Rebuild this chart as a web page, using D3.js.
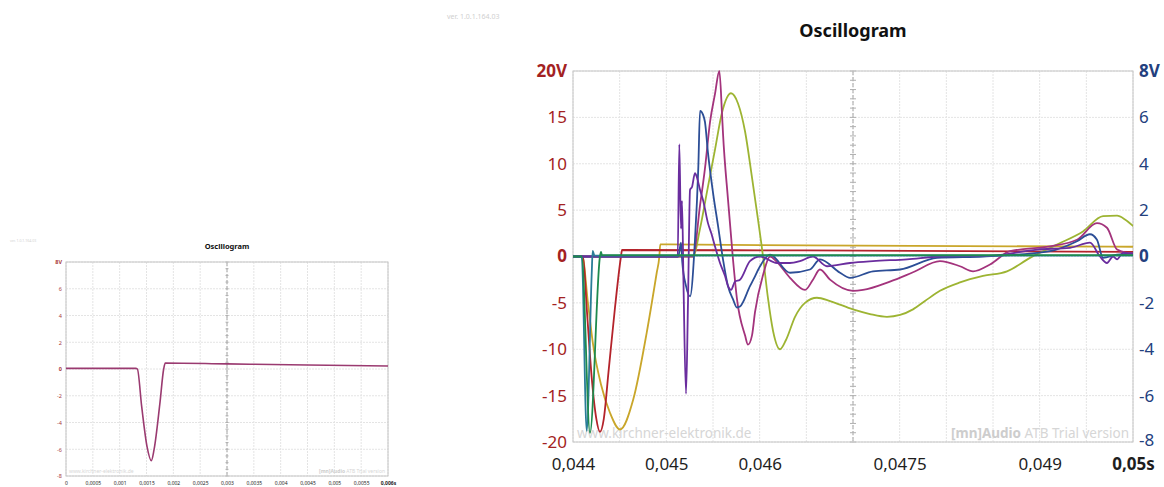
<!DOCTYPE html>
<html><head><meta charset="utf-8">
<script src="https://cdn.jsdelivr.net/npm/d3@7/dist/d3.min.js"></script>
<style>
body{margin:0;background:#fff;}
svg{display:block;font-family:"Noto Sans","Open Sans",sans-serif;}
</style>
</head><body>
<svg id="chart" width="1164" height="487"></svg>
<script>
// ---------------- DATA ----------------
// small (left) oscillogram
const smallGridX = [0,0.0005,0.001,0.0015,0.002,0.0025,0.003,0.0035,0.004,0.0045,0.005,0.0055,0.006];
const smallXLabels = ["0","0,0005","0,001","0,0015","0,002","0,0025","0,003","0,0035","0,004","0,0045","0,005","0,0055","0,006s"];
const smallYTicks = [-8,-6,-4,-2,0,2,4,6,8];
const smallYLabels = ["-8","-6","-4","-2","0","2","4","6","8V"];
const smallTrace = [[0,0.05],[0.0013,0.05],[0.00133,0],[0.00141,-2.8],[0.00151,-5.8],[0.00159,-6.85],[0.00164,-6.05],[0.00175,-2.55],[0.00182,0],[0.00185,0.45],[0.003,0.38],[0.0045,0.3],[0.006,0.22]];

// large (right) oscillogram
const bigGridX = [0.044,0.0445,0.045,0.0455,0.046,0.0465,0.047,0.0475,0.048,0.0485,0.049,0.0495,0.05];
const bigXTicks = [0.044,0.045,0.046,0.0475,0.049,0.05];
const bigXLabels = ["0,044","0,045","0,046","0,0475","0,049","0,05s"];
const bigYLeftTicks = [-20,-15,-10,-5,0,5,10,15,20];
const bigYLeftLabels = ["-20","-15","-10","-5","0","5","10","15","20V"];
const bigYRightTicks = [-8,-6,-4,-2,0,2,4,6,8];
const bigYRightLabels = ["-8","-6","-4","-2","0","2","4","6","8V"];

// traces: [time s, volts (left scale)]
const traceYellow = [[0.044,0],[0.0441,0],[0.04416,-5],[0.044218,-9.7],[0.0443,-13.8],[0.044396,-16.85],[0.044504,-18.65],[0.044646,-15.4],[0.04479,-8.2],[0.044897,-1.75],[0.044925,0],[0.044935,1.3],[0.0465,1.2],[0.05,1.05]];
const traceRed = [[0.044,0],[0.044107,0],[0.04415,-6],[0.0442,-13],[0.04425,-17.5],[0.044289,-18.9],[0.04433,-17.5],[0.04438,-12.5],[0.04445,-5.5],[0.044514,0],[0.044525,0.7],[0.0465,0.65],[0.05,0.5]];
const traceMagenta = [[0.044,0],[0.045286,0],[0.045361,5.5],[0.045414,9.5],[0.045468,14.5],[0.045521,17.5],[0.045568,20],[0.045596,15.5],[0.045607,13.3],[0.045661,6.1],[0.045714,-0.3],[0.045757,-4.6],[0.045843,-8.5],[0.045875,-9.5],[0.045918,-8.5],[0.04595,-6],[0.046036,-2],[0.046111,0],[0.046186,-0.6],[0.046325,-2.3],[0.046486,-3.6],[0.046571,-2.5],[0.046646,-1.4],[0.046754,-2.5],[0.047,-3.7],[0.047107,-3.6],[0.047396,-2.7],[0.047643,-1.7],[0.047932,-0.5],[0.048146,-1.05],[0.048286,-1.6],[0.048468,-0.86],[0.048682,0.57],[0.049111,1.1],[0.0494,1.8],[0.049614,3.6],[0.049721,3.1],[0.049829,0.75],[0.049936,0.4],[0.05,0.35]];
const traceLime = [[0.044,0],[0.045286,0],[0.045361,3],[0.045436,7],[0.045521,11.5],[0.045596,15.5],[0.045693,17.6],[0.045768,16.5],[0.045843,13.5],[0.045918,8.5],[0.045982,4],[0.046036,0],[0.046089,-4.5],[0.046143,-8],[0.046218,-10],[0.046282,-9],[0.046379,-6.5],[0.046486,-5],[0.046614,-4.45],[0.046754,-4.8],[0.047,-5.7],[0.047182,-6.2],[0.047364,-6.5],[0.047504,-6.3],[0.047643,-5.7],[0.047771,-4.8],[0.047932,-3.7],[0.048146,-2.8],[0.048393,-2.1],[0.04865,-1.6],[0.048896,-0.15],[0.049186,1.3],[0.049464,2.7],[0.049679,4.35],[0.049829,4.4],[0.049914,4.0],[0.05,3.3]];
const traceBlue = [[0.044,0],[0.045128,0],[0.045157,1.5],[0.04517,-0.5],[0.045211,-3.2],[0.045254,-4.3],[0.045307,1.8],[0.045343,9.7],[0.045361,15.7],[0.045393,15.3],[0.045414,14.5],[0.045446,11.2],[0.0455,6.9],[0.045554,3.3],[0.045607,-0.3],[0.045661,-3.2],[0.045714,-4.6],[0.045757,-5.5],[0.045789,-5.4],[0.045896,-3.2],[0.045932,-2.5],[0.046004,-1.05],[0.046111,0.2],[0.046325,-1.75],[0.046539,-1.4],[0.046646,-0.3],[0.046861,-1.75],[0.046968,-2.3],[0.047214,-1.6],[0.047504,-1.4],[0.0479,-0.15],[0.048393,0],[0.048757,0.2],[0.049111,0.57],[0.0494,1.65],[0.049539,2.4],[0.049614,1.8],[0.049679,-0.15],[0.049829,0.2],[0.05,0.3]];
const tracePurple = [[0.044,0],[0.045122,0],[0.045139,12.1],[0.045157,3],[0.045168,6],[0.045184,-3],[0.045211,-14.8],[0.045232,-5],[0.045254,7.2],[0.045275,7.5],[0.045307,9.0],[0.045329,8.5],[0.045361,7.2],[0.045393,6.1],[0.045446,3.6],[0.045482,2.5],[0.045521,1.1],[0.045575,-0.7],[0.045629,-2.1],[0.045661,-3.2],[0.045693,-3.6],[0.045736,-2.7],[0.045789,-2.5],[0.045896,-0.5],[0.046004,0],[0.046186,-0.7],[0.046325,-0.7],[0.046432,-0.5],[0.046571,0],[0.046721,-1.05],[0.046968,-0.7],[0.047214,-0.5],[0.047579,-0.3],[0.047932,0],[0.0485,0.1],[0.048971,0.75],[0.049325,0.94],[0.049539,1.5],[0.049646,0],[0.049721,-0.7],[0.049786,0],[0.049829,-0.3],[0.049893,0.4],[0.05,0.3]];
const traceTeal = [[0.044,0],[0.044093,0],[0.044147,-18.8],[0.0442,-2],[0.044211,0.6],[0.04423,0.1],[0.05,0.1]];
const traceGreen = [[0.044,0],[0.044093,0],[0.044182,-19],[0.044289,0],[0.0443,0.5],[0.04431,0.15],[0.05,0.15]];

const bigSeries = [
  {data: traceYellow, color: "#c9a62a"},
  {data: traceRed, color: "#b4232b"},
  {data: traceLime, color: "#9db432"},
  {data: traceMagenta, color: "#a3337c"},
  {data: traceBlue, color: "#2c4e96"},
  {data: tracePurple, color: "#6a2d9e"},
  {data: traceTeal, color: "#2a7d98"},
  {data: traceGreen, color: "#1e8a4e"}
];

// ---------------- DRAW ----------------
const svg = d3.select("#chart");

function drawPanel(o) {
  const g = svg.append("g");
  const x = d3.scaleLinear().domain(o.xDomain).range([o.box.left, o.box.right]);
  const y = d3.scaleLinear().domain(o.yDomain).range([o.box.bottom, o.box.top]);

  // grid
  g.append("g").selectAll("line").data(o.gridX).join("line")
    .attr("x1", d => x(d)).attr("x2", d => x(d))
    .attr("y1", o.box.top).attr("y2", o.box.bottom)
    .attr("stroke", "#e4e4e4").attr("stroke-width", 1).attr("stroke-dasharray", "2,1");
  g.append("g").selectAll("line").data(o.gridY).join("line")
    .attr("x1", o.box.left).attr("x2", o.box.right)
    .attr("y1", d => y(d)).attr("y2", d => y(d))
    .attr("stroke", "#e4e4e4").attr("stroke-width", 1).attr("stroke-dasharray", "2,1");

  // center vertical dashed line with minor ticks
  const cx = x((o.xDomain[0] + o.xDomain[1]) / 2);
  g.append("line").attr("x1", cx).attr("x2", cx).attr("y1", o.box.top).attr("y2", o.box.bottom)
    .attr("stroke", "#a8a8a8").attr("stroke-width", 1).attr("stroke-dasharray", "4,2");
  const minor = y.ticks(o.minorCount);
  g.append("g").selectAll("line").data(minor).join("line")
    .attr("x1", cx - o.minorLen).attr("x2", cx + o.minorLen)
    .attr("y1", d => y(d)).attr("y2", d => y(d))
    .attr("stroke", "#b0b0b0").attr("stroke-width", 1);

  // border
  g.append("rect").attr("x", o.box.left).attr("y", o.box.top)
    .attr("width", o.box.right - o.box.left).attr("height", o.box.bottom - o.box.top)
    .attr("fill", "none").attr("stroke", "#c6c6c6").attr("stroke-width", 1);

  // watermarks
  g.append("text").attr("x", o.box.left + o.wmPad).attr("y", o.box.bottom - o.wmPad)
    .attr("font-size", o.wmSize).attr("fill", "#d6d6d6").text("www.kirchner-elektronik.de");
  const wm = g.append("text").attr("x", o.box.right - o.wmPad).attr("y", o.box.bottom - o.wmPad)
    .attr("text-anchor", "end").attr("font-size", o.wmSize).attr("fill", "#d6d6d6");
  wm.append("tspan").attr("font-weight", "bold").attr("fill", "#cdcdcd").text("[mn]Audio");
  wm.append("tspan").text(" ATB Trial version");

  // clip + traces
  const clipId = "clip" + o.id;
  svg.append("defs").append("clipPath").attr("id", clipId).append("rect")
    .attr("x", o.box.left).attr("y", o.box.top - 1)
    .attr("width", o.box.right - o.box.left).attr("height", o.box.bottom - o.box.top + 2);
  const line = d3.line().x(d => x(d[0])).y(d => y(d[1])).curve(d3.curveMonotoneX);
  const tg = g.append("g").attr("clip-path", `url(#${clipId})`);
  o.series.forEach(s => {
    tg.append("path").attr("d", line(s.data)).attr("fill", "none")
      .attr("stroke", s.color).attr("stroke-width", o.lineWidth)
      .attr("stroke-linejoin", "round").attr("stroke-linecap", "round");
  });

  // axes
  const xa = d3.axisBottom(x).tickValues(o.xTicks).tickFormat((d, i) => o.xLabels[i])
    .tickSize(0).tickPadding(o.xPad);
  const xg = g.append("g").attr("transform", `translate(0,${o.box.bottom})`).call(xa);
  xg.select(".domain").remove();
  xg.selectAll("text").attr("font-size", o.xFont).attr("fill", "#1e1e1e")
    .attr("font-family", '"Noto Sans","Open Sans",sans-serif')
    .attr("font-weight", (d, i) => i === o.xTicks.length - 1 ? "bold" : "normal");

  const ya = d3.axisLeft(y).tickValues(o.yTicks).tickFormat((d, i) => o.yLabels[i])
    .tickSize(0).tickPadding(o.yPad);
  const yg = g.append("g").attr("transform", `translate(${o.box.left},0)`).call(ya);
  yg.select(".domain").remove();
  yg.selectAll("text").attr("font-size", o.yFont).attr("fill", o.leftColor)
    .attr("font-family", '"Noto Sans","Open Sans",sans-serif')
    .attr("font-weight", d => (d === 0 || d === o.yDomain[1]) ? "bold" : "normal");

  if (o.right) {
    const yr = d3.scaleLinear().domain(o.right.domain).range([o.box.bottom, o.box.top]);
    const ra = d3.axisRight(yr).tickValues(o.right.ticks).tickFormat((d, i) => o.right.labels[i])
      .tickSize(0).tickPadding(o.yPad);
    const rg = g.append("g").attr("transform", `translate(${o.box.right},0)`).call(ra);
    rg.select(".domain").remove();
    rg.selectAll("text").attr("font-size", o.yFont).attr("fill", o.right.color)
      .attr("font-family", '"Noto Sans","Open Sans",sans-serif')
      .attr("font-weight", d => (d === 0 || d === o.right.domain[1]) ? "bold" : "normal")
      .attr("dy", d => d === o.right.domain[0] ? "0.2em" : "0.32em");
  }

  // title
  g.append("text").attr("x", (o.box.left + o.box.right) / 2).attr("y", o.titleY)
    .attr("text-anchor", "middle").attr("font-size", o.titleSize).attr("font-weight", "bold")
    .attr("fill", "#111").text("Oscillogram");
}

// small chart
drawPanel({
  id: "s", box: {left: 66, right: 388, top: 262, bottom: 476},
  xDomain: [0, 0.006], yDomain: [-8, 8],
  gridX: smallGridX, gridY: smallYTicks,
  xTicks: smallGridX, xLabels: smallXLabels, xFont: 5, xPad: 5,
  yTicks: smallYTicks, yLabels: smallYLabels, yFont: 5.5, yPad: 4,
  leftColor: "#a83a3a",
  minorCount: 32, minorLen: 1.5,
  wmPad: 3, wmSize: 5,
  series: [{data: smallTrace, color: "#9a3a70"}], lineWidth: 1.6,
  titleY: 249, titleSize: 7.5
});

// big chart
drawPanel({
  id: "b", box: {left: 573, right: 1133, top: 71, bottom: 442},
  xDomain: [0.044, 0.05], yDomain: [-20, 20],
  gridX: bigGridX, gridY: bigYLeftTicks,
  xTicks: bigXTicks, xLabels: bigXLabels, xFont: 17, xPad: 16,
  yTicks: bigYLeftTicks, yLabels: bigYLeftLabels, yFont: 17, yPad: 6,
  leftColor: "#a32222",
  right: {domain: [-8, 8], ticks: bigYRightTicks, labels: bigYRightLabels, color: "#23407e"},
  minorCount: 32, minorLen: 3,
  wmPad: 4, wmSize: 13.5,
  series: bigSeries, lineWidth: 1.8,
  titleY: 37, titleSize: 18
});

// version strings
svg.append("text").attr("x", 447).attr("y", 19).attr("font-size", 7).attr("fill", "#cfcfcf").text("ver. 1.0.1.164.03");
svg.append("text").attr("x", 10).attr("y", 242).attr("font-size", 3.5).attr("fill", "#d2d2d2").text("ver. 1.0.1.164.03");
</script>
</body></html>
